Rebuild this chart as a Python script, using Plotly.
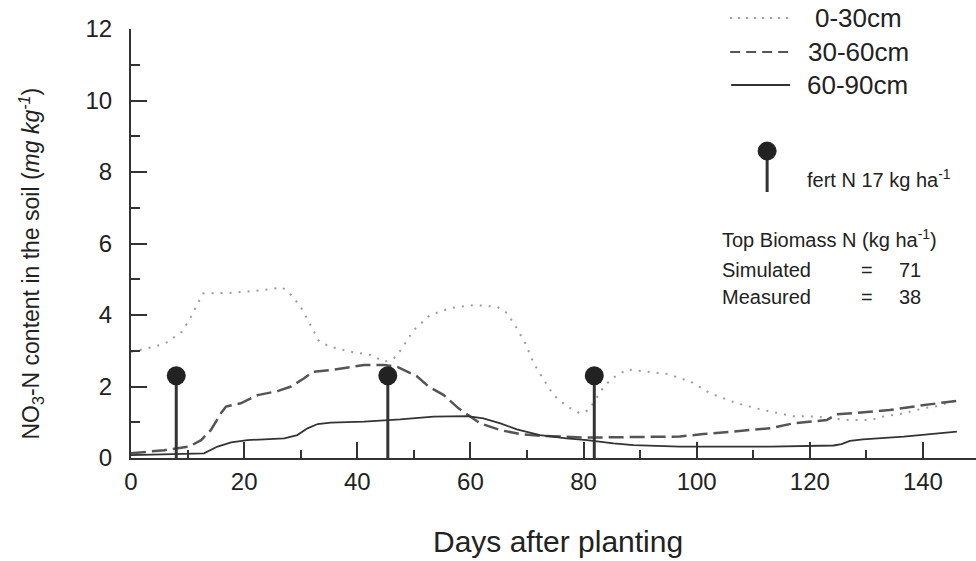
import plotly.graph_objects as go

# ---- data ----
days_0_30 = [0, 3, 6, 9, 10.6, 11.8, 12.7, 17.7, 23.6, 26.8, 28.3, 30, 31.2, 32.1, 33.3, 35.3,
             38.9, 42.4, 44.8, 46.5, 47.7, 49.2, 50, 52.9, 56.4, 60.6, 64.7, 66.5, 68.2, 69.7,
             71.2, 73, 74.7, 77.1, 79.4, 80.9, 82.4, 83.6, 85.1, 87.7, 91.3, 94.8, 98.9, 102.4,
             107.1, 111.8, 117.1, 121.2, 123.5, 127.1, 130.7, 133, 136.6, 140.1, 142.4, 146]
no3_0_30 = [2.97, 3.07, 3.2, 3.53, 3.95, 4.33, 4.6, 4.62, 4.7, 4.77, 4.56, 4.23, 3.86, 3.58, 3.25, 3.11,
            2.97, 2.88, 2.69, 2.79, 3.02, 3.39, 3.58, 4.0, 4.19, 4.28, 4.23, 4.05, 3.63, 3.21,
            2.65, 2.18, 1.76, 1.44, 1.25, 1.34, 1.72, 2.0, 2.23, 2.48, 2.41, 2.35, 2.14, 1.81,
            1.53, 1.34, 1.17, 1.16, 1.11, 1.06, 1.06, 1.16, 1.25, 1.39, 1.45, 1.62]

days_30_60 = [0, 5.9, 10.3, 12.4, 14.1, 15.9, 16.8, 19.4, 22.4, 25.9, 28.3, 30.6, 32.1, 35.3, 41.2,
              44.8, 47.1, 50.6, 52.6, 55.3, 57.9, 60, 61.7, 65.3, 68.8, 72.3, 77, 80.6, 85.3,
              92.4, 97, 101.2, 107.1, 113, 117.1, 120.6, 123, 124.7, 129.4, 134.1, 138.8, 146]
no3_30_60 = [0.13, 0.22, 0.32, 0.5, 0.78, 1.25, 1.44, 1.53, 1.76, 1.87, 2.0, 2.23, 2.41, 2.46, 2.6,
             2.6, 2.55, 2.28, 2.0, 1.76, 1.39, 1.16, 0.97, 0.78, 0.67, 0.62, 0.58, 0.57, 0.58,
             0.58, 0.6, 0.67, 0.74, 0.83, 0.97, 1.02, 1.06, 1.22, 1.27, 1.34, 1.45, 1.6]

days_60_90 = [0, 12.9, 15.3, 17.7, 20.6, 27.1, 29.4, 31.2, 33, 35.3, 41.2, 47.6, 53.5, 59.4, 62.3,
              65.3, 68.2, 72.3, 77, 80.6, 85.3, 88.8, 97, 101.2, 113, 124.2, 125.6, 127.1, 129.4,
              136.6, 146]
no3_60_90 = [0.08, 0.13, 0.32, 0.44, 0.5, 0.55, 0.64, 0.83, 0.95, 0.99, 1.02, 1.08, 1.16, 1.17, 1.11,
             0.97, 0.8, 0.64, 0.55, 0.5, 0.41, 0.36, 0.32, 0.32, 0.32, 0.35, 0.39, 0.48, 0.52,
             0.6, 0.74]

fert_days = [8, 45.4, 81.9]
fert_marker_height = [2.3, 2.3, 2.3]

series_names = ["0-30cm", "30-60cm", "60-90cm"]
x_ticks = [0, 20, 40, 60, 80, 100, 120, 140]
y_ticks = [0, 2, 4, 6, 8, 10, 12]

TXT = "#222222"
fig = go.Figure()

fig.add_trace(go.Scatter(x=days_0_30, y=no3_0_30, mode="lines", name=series_names[0],
                         line=dict(color="#9c9c9c", width=2, dash="2px,7px"), showlegend=False))
fig.add_trace(go.Scatter(x=days_30_60, y=no3_30_60, mode="lines", name=series_names[1],
                         line=dict(color="#555555", width=2.5, dash="15px,6px"), showlegend=False))
fig.add_trace(go.Scatter(x=days_60_90, y=no3_60_90, mode="lines", name=series_names[2],
                         line=dict(color="#333333", width=1.8), showlegend=False))

# fertilizer stems
stem_x, stem_y = [], []
for d, h in zip(fert_days, fert_marker_height):
    stem_x += [d, d, None]
    stem_y += [0, h, None]
fig.add_trace(go.Scatter(x=stem_x, y=stem_y, mode="lines", line=dict(color="#333333", width=3),
                         showlegend=False, cliponaxis=False))
fig.add_trace(go.Scatter(x=fert_days, y=fert_marker_height, mode="markers",
                         marker=dict(color="#222222", size=19), showlegend=False, cliponaxis=False))

L = 130.5
T = 29
W = 976 - L
H = 458 - T


def px(x):
    return (x - L) / W


def py(y):
    return (458 - y) / H


shapes = []
# legend keys
shapes.append(dict(type="line", xref="paper", yref="paper", x0=px(730), x1=px(790), y0=py(18), y1=py(18),
                   line=dict(color="#9c9c9c", width=2, dash="2px,6px")))
shapes.append(dict(type="line", xref="paper", yref="paper", x0=px(730), x1=px(790), y0=py(52), y1=py(52),
                   line=dict(color="#555555", width=2, dash="10px,6px")))
shapes.append(dict(type="line", xref="paper", yref="paper", x0=px(731), x1=px(790), y0=py(85), y1=py(85),
                   line=dict(color="#333333", width=2)))
# fert legend key
shapes.append(dict(type="line", xref="paper", yref="paper", x0=px(767), x1=px(767), y0=py(152), y1=py(192),
                   line=dict(color="#333333", width=3)))
shapes.append(dict(type="circle", xref="paper", yref="paper", xsizemode="pixel", ysizemode="pixel",
                   xanchor=px(767), yanchor=py(151), x0=-9, x1=9, y0=-9, y1=9,
                   fillcolor="#222222", line=dict(color="#222222", width=1)))

F = "Liberation Sans, Arial, sans-serif"
ann = []
for t, xx, yy in [(series_names[0], 813, 18), (series_names[1], 806, 52), (series_names[2], 805, 85)]:
    ann.append(dict(text=t, x=px(xx), y=py(yy), xref="paper", yref="paper", xanchor="left", yanchor="middle",
                    showarrow=False, font=dict(size=26, color=TXT, family=F)))
ann.append(dict(text="fert N 17 kg ha<sup>-1</sup>", x=px(805), y=py(178), xref="paper", yref="paper",
                xanchor="left", yanchor="middle", showarrow=False, font=dict(size=20, color=TXT, family=F)))
ann.append(dict(text="Top Biomass N (kg ha<sup>-1</sup>)", x=px(720), y=py(239), xref="paper", yref="paper",
                xanchor="left", yanchor="middle", showarrow=False, font=dict(size=20, color=TXT, family=F)))
for lab, val, yy in [("Simulated", "71", 270), ("Measured", "38", 297)]:
    ann.append(dict(text=lab, x=px(720), y=py(yy), xref="paper", yref="paper", xanchor="left",
                    yanchor="middle", showarrow=False, font=dict(size=20, color=TXT, family=F)))
    ann.append(dict(text="=", x=px(867), y=py(yy), xref="paper", yref="paper", xanchor="center",
                    yanchor="middle", showarrow=False, font=dict(size=20, color=TXT, family=F)))
    ann.append(dict(text=val, x=px(897), y=py(yy), xref="paper", yref="paper", xanchor="left",
                    yanchor="middle", showarrow=False, font=dict(size=20, color=TXT, family=F)))
# axis titles
ann.append(dict(text="Days after planting", x=px(558), y=py(541), xref="paper", yref="paper",
                xanchor="center", yanchor="middle", showarrow=False, font=dict(size=30, color=TXT, family=F)))
ann.append(dict(text="NO<sub>3</sub>-N content in the soil (<i>mg kg<sup>-1</sup></i>)", x=px(30), y=py(264),
                xref="paper", yref="paper", xanchor="center", yanchor="middle", textangle=-90,
                showarrow=False, font=dict(size=23, color=TXT, family=F)))

fig.update_layout(
    width=976, height=561,
    margin=dict(l=L, r=0, t=T, b=561 - 458, pad=0),
    paper_bgcolor="white", plot_bgcolor="white",
    shapes=shapes, annotations=ann,
    font=dict(family=F, color=TXT),
)
fig.update_xaxes(range=[0, W / 5.66], tickmode="array", tickvals=x_ticks, ticks="inside", ticklen=16,
                 tickwidth=2, tickcolor="#333333", showline=True, linecolor="#333333", linewidth=2,
                 showgrid=False, zeroline=False, tickfont=dict(size=24, color=TXT, family=F),
                 ticklabelstandoff=1,
                 minor=dict(ticks="inside", dtick=10, ticklen=8, tickwidth=1.5, tickcolor="#333333", showgrid=False))
fig.update_yaxes(range=[0, 12], tickmode="array", tickvals=y_ticks, ticks="inside", ticklen=16, tickwidth=2,
                 tickcolor="#333333", showline=True, linecolor="#333333", linewidth=2, showgrid=False,
                 zeroline=False, tickfont=dict(size=24, color=TXT, family=F), ticklabelstandoff=12,
                 minor=dict(ticks="inside", dtick=1, ticklen=9, tickwidth=1.5, tickcolor="#333333", showgrid=False))

fig.write_html("out.html")
